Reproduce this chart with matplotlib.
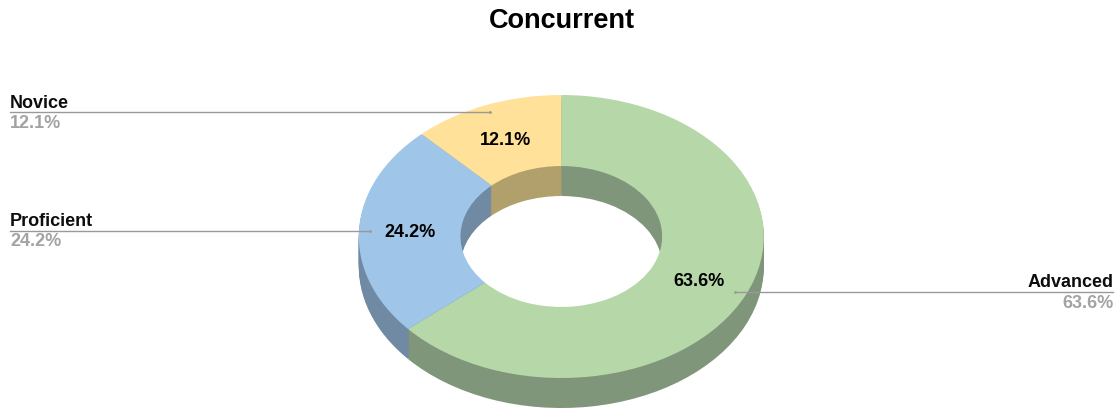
import numpy as np
import matplotlib
matplotlib.use("Agg")
import matplotlib.pyplot as plt

plt.rcParams['font.family'] = ['Liberation Sans', 'DejaVu Sans']

categories = ["Advanced", "Proficient", "Novice"]
shares = [63.6, 24.2, 12.1]
top_colors = ["#b6d7a8", "#9fc5e8", "#ffe199"]
side_colors = ["#7f967a", "#6f8aa2", "#b2a06c"]

W, H = 1120, 408
fig = plt.figure(figsize=(W / 100, H / 100), dpi=100)
ax = fig.add_axes([0, 0, 1, 1])

# pie is drawn in pixel-like data units, the y scale squashes it to an ellipse
cx, cy = 561.3, 236.5
rx = 202.5
squash = 141.5 / 202.5
depth = 30
ring = 0.498


def donut(y_off, colors):
    # y data runs downward, so the angles are mirrored with counterclock=True
    ax.pie(shares, colors=colors, radius=rx, center=(cx, (cy + y_off) / squash),
           startangle=-90, counterclock=True,
           wedgeprops=dict(width=rx * (1 - ring), linewidth=0), frame=False)


# side wall is a stack of dark rings, top face goes last
for off in np.arange(depth, 0, -1.5):
    donut(off, side_colors)
donut(0, top_colors)

ax.set_aspect('auto')
ax.set_xlim(0, W)
ax.set_ylim(H / squash, 0)
ax.axis('off')


def px(x, y):
    return x, y / squash


# title
ax.text(*px(561.5, 20.5), "Concurrent", ha='center', va='center', fontsize=19.5,
        fontweight='bold', color='black')

# labels on the slices
inner = [("63.6%", 699, 281.5), ("24.2%", 410, 233), ("12.1%", 505.5, 140.5)]
for txt, x, y in inner:
    ax.text(*px(x, y), txt, ha='center', va='center', fontsize=13,
            fontweight='bold', color='black')

# outside labels and leader lines
leaders = [((735, 1113), 292), ((10, 370), 230.5), ((10, 490), 112)]
ends = [735, 370, 490]
for ((x0, x1), y), end in zip(leaders, ends):
    ax.plot([x0, x1], [y / squash] * 2, color='#999999', lw=1)
    ax.plot([end], [y / squash], 'o', color='#999999', ms=2, mew=0)

outer = [("Advanced", "63.6%", 1113.5, 'right', 282.5, 303),
         ("Proficient", "24.2%", 10, 'left', 221, 241.5),
         ("Novice", "12.1%", 10, 'left', 103, 123)]
for name, pct, x, ha, y1, y2 in outer:
    ax.text(*px(x, y1), name, ha=ha, va='center', fontsize=13,
            fontweight='bold', color='#0d0d0d')
    ax.text(*px(x, y2), pct, ha=ha, va='center', fontsize=13,
            fontweight='bold', color='#a3a3a3')

fig.savefig("out.png", dpi=100)
